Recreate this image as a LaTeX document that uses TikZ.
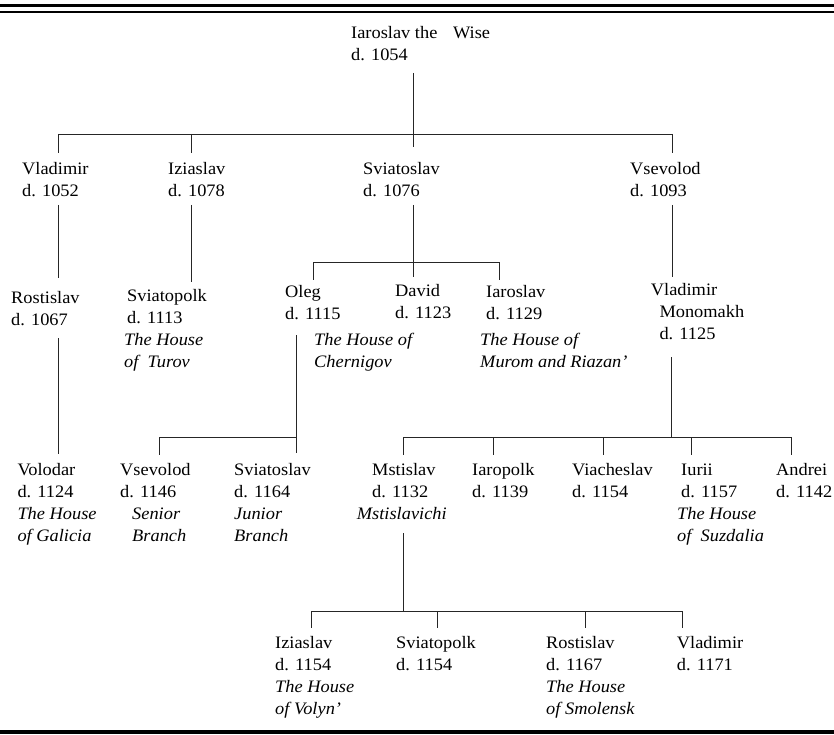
\documentclass[tikz,border=0pt]{standalone}
\usepackage{fontspec}
\setmainfont{Liberation Serif}[FakeStretch=1.05]
\begin{document}
\begin{tikzpicture}[x=1pt,y=-1pt,
  person/.style={anchor=base west,inner sep=0pt,align=left,font=\fontsize{17.5}{22}\selectfont},
  house/.style={anchor=base west,inner sep=0pt,align=left,font=\fontsize{17.5}{22}\selectfont\itshape},
  link/.style={line width=0.9pt,black!85},
  rule/.style={line width=2.6pt,black}]
\useasboundingbox (0,0) rectangle (834,735);
% rules
\coordinate (t1l) at (0,5.3); \coordinate (t1r) at (834,5.3);
\coordinate (t2l) at (0,12); \coordinate (t2r) at (834,12);
\coordinate (bl) at (0,731.5); \coordinate (br) at (834,731.5);
\draw[rule] (t1l) -- (t1r);
\draw[rule] (t2l) -- (t2r);
\draw[line width=4pt] (bl) -- (br);
% people (anchored at the baseline of the last line)
\node[person] (root) at (351,61) {Iaroslav the\hspace{11pt} Wise\\d. 1054};
\node[person] (vladimir) at (22,197) {Vladimir\\d. 1052};
\node[person] (iziaslav) at (168,197) {Iziaslav\\d. 1078};
\node[person] (sviatoslav) at (363,197) {Sviatoslav\\d. 1076};
\node[person] (vsevolod) at (630,197) {Vsevolod\\d. 1093};
\node[person] (rostislav) at (11,325) {Rostislav\\d. 1067};
\node[person] (sviatopolk) at (124,367.5) {\hspace*{3pt}Sviatopolk\\\hspace*{3pt}d. 1113\\\textit{The House}\\\textit{of\ \ Turov}};
\node[person] (oleg) at (285,319) {Oleg\\d. 1115};
\node[person] (david) at (395,318) {David\\d. 1123};
\node[person] (iaroslavB) at (486,319) {Iaroslav\\d. 1129};
\node[house] (chernigov) at (314,367) {The House of\\Chernigov};
\node[house] (murom) at (480,367) {The House of\\Murom and Riazan’};
\node[person] (monomakh) at (650.7,339.5) {Vladimir\\\hspace*{8.6pt}Monomakh\\\hspace*{8.6pt}d. 1125};
\node[person] (volodar) at (17.3,541) {Volodar\\d. 1124\\\textit{The House}\\\textit{of Galicia}};
\node[person] (vsevolodB) at (120,541) {Vsevolod\\d. 1146\\\hspace*{12pt}\textit{Senior}\\\hspace*{12pt}\textit{Branch}};
\node[person] (sviatoslavB) at (234,541) {Sviatoslav\\d. 1164\\\textit{Junior}\\\textit{Branch}};
\node[person] (mstislav) at (356.7,519) {\hspace*{15.3pt}Mstislav\\\hspace*{15.3pt}d. 1132\\\textit{Mstislavichi}};
\node[person] (iaropolk) at (472,497) {Iaropolk\\d. 1139};
\node[person] (viacheslav) at (572,497) {Viacheslav\\d. 1154};
\node[person] (iurii) at (677,541) {\hspace*{4pt}Iurii\\\hspace*{4pt}d. 1157\\\textit{The House}\\\textit{of\ \ Suzdalia}};
\node[person] (andrei) at (776,497) {Andrei\\d. 1142};
\node[person] (iziaslavC) at (275,714.5) {Iziaslav\\d. 1154\\\textit{The House}\\\textit{of Volyn’}};
\node[person] (sviatopolkC) at (396,670.5) {Sviatopolk\\d. 1154};
\node[person] (rostislavC) at (546,714.5) {Rostislav\\d. 1167\\\textit{The House}\\\textit{of Smolensk}};
\node[person] (vladimirC) at (676.7,670.5) {Vladimir\\d. 1171};
% connector points
\coordinate (r0) at (413,73); \coordinate (r1) at (413,147);
\coordinate (b1l) at (58.5,134); \coordinate (b1m) at (191.7,134); \coordinate (b1r) at (672,134);
\coordinate (d1l) at (58.5,153); \coordinate (d1m) at (191.7,153); \coordinate (d1r) at (672,153);
\coordinate (v1a) at (58.5,205); \coordinate (v1b) at (58.5,278);
\coordinate (i1a) at (191.7,205); \coordinate (i1b) at (191.7,282);
\coordinate (s1a) at (413,205); \coordinate (s1b) at (413,277);
\coordinate (s2l) at (313,262); \coordinate (s2r) at (499,262);
\coordinate (s3l) at (313,280); \coordinate (s3r) at (499,280);
\coordinate (w1a) at (672,205); \coordinate (w1b) at (672,277);
\coordinate (ro1) at (58.5,338); \coordinate (ro2) at (58.5,454);
\coordinate (o1) at (296,335); \coordinate (o2) at (296,453);
\coordinate (o3) at (159.3,437); \coordinate (o4) at (159.3,455); \coordinate (o5) at (296,437);
\coordinate (m1) at (671,357); \coordinate (m2) at (671,437);
\coordinate (mb1) at (403,437); \coordinate (mb2) at (493,437); \coordinate (mb3) at (603,437);
\coordinate (mb4) at (691,437); \coordinate (mb5) at (791,437);
\coordinate (md1) at (403,455); \coordinate (md2) at (493,455); \coordinate (md3) at (603,455);
\coordinate (md4) at (691,455); \coordinate (md5) at (791,455);
\coordinate (x1) at (403,533); \coordinate (x2) at (403,611);
\coordinate (xb1) at (311.7,611); \coordinate (xb2) at (437.7,611); \coordinate (xb3) at (585,611); \coordinate (xb4) at (682,611);
\coordinate (xd1) at (311.7,628); \coordinate (xd2) at (437.7,628); \coordinate (xd3) at (585,628); \coordinate (xd4) at (682,628);
% connectors
\draw[link] (r0) -- (r1);
\draw[link] (b1l) -- (b1r);
\draw[link] (b1l) -- (d1l); \draw[link] (b1m) -- (d1m); \draw[link] (b1r) -- (d1r);
\draw[link] (v1a) -- (v1b);
\draw[link] (i1a) -- (i1b);
\draw[link] (s1a) -- (s1b);
\draw[link] (s2l) -- (s2r);
\draw[link] (s2l) -- (s3l); \draw[link] (s2r) -- (s3r);
\draw[link] (w1a) -- (w1b);
\draw[link] (ro1) -- (ro2);
\draw[link] (o1) -- (o2);
\draw[link] (o3) -- (o5); \draw[link] (o3) -- (o4);
\draw[link] (m1) -- (m2);
\draw[link] (mb1) -- (mb5);
\draw[link] (mb1) -- (md1); \draw[link] (mb2) -- (md2); \draw[link] (mb3) -- (md3);
\draw[link] (mb4) -- (md4); \draw[link] (mb5) -- (md5);
\draw[link] (x1) -- (x2);
\draw[link] (xb1) -- (xb4);
\draw[link] (xb1) -- (xd1); \draw[link] (xb2) -- (xd2); \draw[link] (xb3) -- (xd3); \draw[link] (xb4) -- (xd4);
\end{tikzpicture}
\end{document}
